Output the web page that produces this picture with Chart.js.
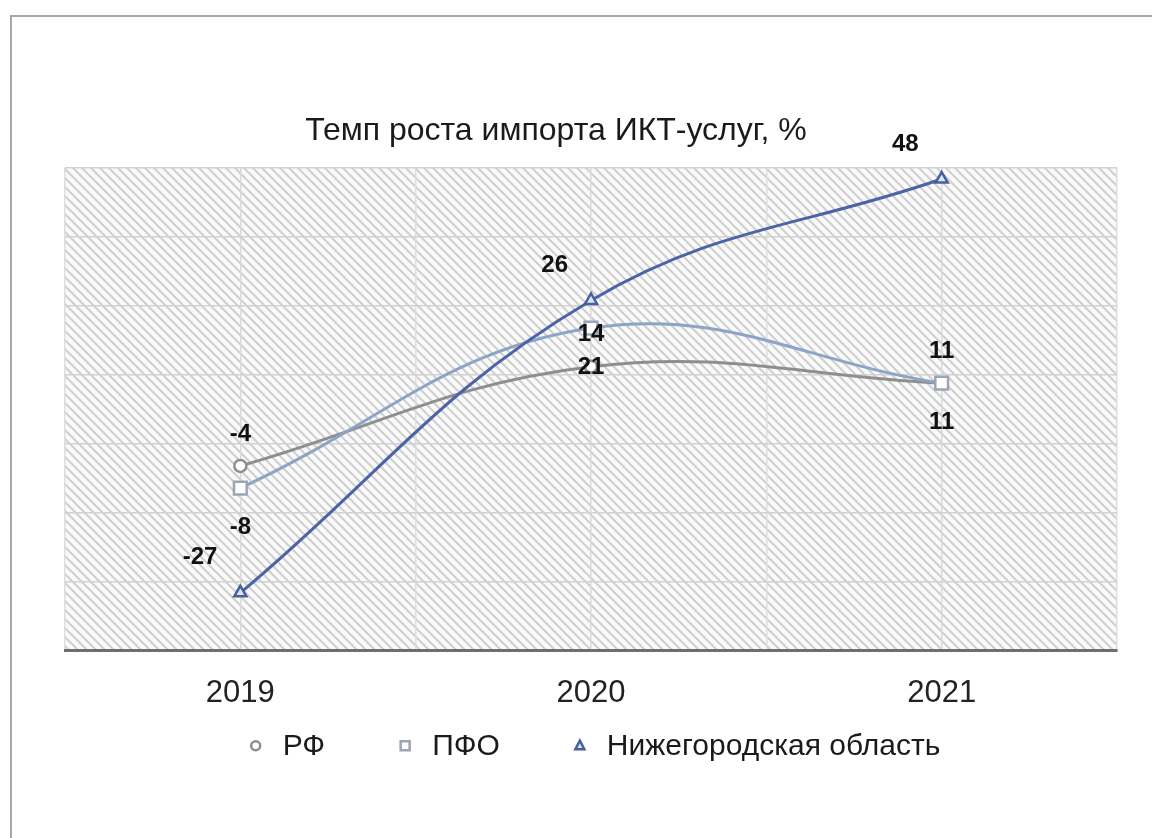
<!DOCTYPE html>
<html lang="ru">
<head>
<meta charset="utf-8">
<title>Темп роста импорта ИКТ-услуг</title>
<script src="https://cdn.jsdelivr.net/npm/chart.js@4.4.1/dist/chart.umd.min.js"></script>
<style>
  html, body { margin: 0; padding: 0; background: #fff; overflow: hidden; }
  .frame {
    position: absolute; left: 10px; top: 15px;
    width: 1160px; height: 840px;
    border-top: 2px solid #a8a8a8;
    border-left: 2px solid #a8a8a8;
  }
  #chart { display: block; }
</style>
</head>
<body>
<div class="frame"><canvas id="chart" width="1140" height="821"></canvas></div>
<script>
// DATA
var years = ['2019', '2020', '2021']
var rfValues = [-4, 14, 11]
var pfoValues = [-8, 21, 11]
var nnValues = [-27, 26, 48]
var seriesNames = ['РФ', 'ПФО', 'Нижегородская область']
var chartTitle = 'Темп роста импорта ИКТ-услуг, %'
var yMin = -37.5, yMax = 50, yStep = 12.5

var FONT = '"Liberation Sans", Arial, sans-serif'
Chart.defaults.font.family = FONT
Chart.defaults.color = '#222'

// diagonal hatch tile for the plot background
function makeHatch() {
  var s = 9
  var c = document.createElement('canvas')
  c.width = s
  c.height = s
  var g = c.getContext('2d')
  g.fillStyle = '#fafafa'
  g.fillRect(0, 0, s, s)
  g.strokeStyle = '#cfcfcf'
  g.lineWidth = 2
  g.beginPath()
  g.moveTo(-2, -2); g.lineTo(s + 2, s + 2)
  g.moveTo(-2, s - 2); g.lineTo(2, s + 2)
  g.moveTo(s - 2, -2); g.lineTo(s + 2, 2)
  g.stroke()
  return c
}

function drawMarker(ctx, style, x, y, r) {
  ctx.beginPath()
  if (style === 'circle') {
    ctx.arc(x, y, r, 0, Math.PI * 2)
  } else if (style === 'rect') {
    ctx.rect(x - r, y - r, 2 * r, 2 * r)
  } else {
    ctx.moveTo(x, y - r * 1.15)
    ctx.lineTo(x + r, y + r * 0.75)
    ctx.lineTo(x - r, y + r * 0.75)
    ctx.closePath()
  }
  ctx.fill()
  ctx.stroke()
}

var hatchBg = {
  id: 'hatchBg',
  beforeDraw(chart) {
    var a = chart.chartArea
    var ctx = chart.ctx
    ctx.save()
    ctx.fillStyle = ctx.createPattern(makeHatch(), 'repeat')
    ctx.fillRect(a.left, a.top, a.right - a.left, a.bottom - a.top)
    ctx.restore()
  }
}

// numbers next to the points
var valueLabels = {
  id: 'valueLabels',
  afterDatasetsDraw(chart) {
    var ctx = chart.ctx
    ctx.save()
    ctx.font = 'bold 24px ' + FONT
    ctx.fillStyle = '#111'
    ctx.textBaseline = 'middle'
    chart.data.datasets.forEach(function(ds, i) {
      chart.getDatasetMeta(i).data.forEach(function(pt, j) {
        var txt = String(ds.data[j])
        if (ds.labelAt === 'below') {
          ctx.textAlign = 'center'
          ctx.fillText(txt, pt.x, pt.y + 39)
        } else if (ds.labelAt === 'left') {
          ctx.textAlign = 'right'
          ctx.fillText(txt, pt.x - 23, pt.y - 35)
        } else {
          ctx.textAlign = 'center'
          ctx.fillText(txt, pt.x, pt.y - 32)
        }
      })
    })
    ctx.restore()
  }
}

// title on top, legend row under the axis
var titleAndLegend = {
  id: 'titleAndLegend',
  afterDraw(chart) {
    var ctx = chart.ctx
    var a = chart.chartArea
    ctx.save()
    ctx.textBaseline = 'middle'

    ctx.font = '32px ' + FONT
    ctx.fillStyle = '#1a1a1a'
    ctx.textAlign = 'center'
    ctx.fillText(chartTitle, (a.left + a.right) / 2 - 35, a.top - 37)

    ctx.font = '30px ' + FONT
    ctx.textAlign = 'left'
    var markerGap = 27, itemGap = 80
    var items = chart.data.datasets.map(function(ds) {
      return { ds: ds, w: ctx.measureText(ds.label).width }
    })
    var total = items.reduce(function(s, it) { return s + markerGap + it.w }, 0) +
      itemGap * (items.length - 1)
    var x = (a.left + a.right) / 2 + 7 - total / 2
    var y = a.bottom + 95
    items.forEach(function(it) {
      ctx.lineWidth = 2.5
      ctx.strokeStyle = it.ds.pointBorderColor
      ctx.fillStyle = it.ds.pointBackgroundColor
      drawMarker(ctx, it.ds.pointStyle, x, y, 4.5)
      ctx.fillStyle = '#1a1a1a'
      ctx.fillText(it.ds.label, x + markerGap, y + 1)
      x += markerGap + it.w + itemGap
    })
    ctx.restore()
  }
}

new Chart(document.getElementById('chart'), {
  type: 'line',
  data: {
    labels: years,
    datasets: [
      {
        label: seriesNames[0],
        data: rfValues,
        borderColor: '#8e8e8e',
        pointStyle: 'circle',
        pointRadius: 6,
        pointBorderWidth: 2.5,
        pointBorderColor: '#8e8e8e',
        pointBackgroundColor: '#ffffff',
        labelAt: 'above',
        order: 2
      }, {
        label: seriesNames[1],
        data: pfoValues,
        borderColor: '#8ca4c6',
        pointStyle: 'rect',
        pointRadius: 9,
        pointBorderWidth: 2.5,
        pointBorderColor: '#9aa6b4',
        pointBackgroundColor: '#ffffff',
        labelAt: 'below',
        order: 1
      }, {
        label: seriesNames[2],
        data: nnValues,
        borderColor: '#4c63a6',
        pointStyle: 'triangle',
        pointRadius: 7,
        pointBorderWidth: 2.5,
        pointBorderColor: '#46609e',
        pointBackgroundColor: '#d9e8f7',
        labelAt: 'left',
        order: 0
      }
    ]
  },
  options: {
    responsive: false,
    animation: false,
    layout: { padding: { left: 53, right: 35, top: 151, bottom: 102 } },
    elements: { line: { tension: 0.4, borderWidth: 3 } },
    plugins: {
      legend: { display: false },
      title: { display: false },
      tooltip: { enabled: false }
    },
    scales: {
      x: {
        offset: true,
        grid: { color: '#dadada', lineWidth: 1.5, drawTicks: false },
        border: { color: '#6e6e6e', width: 3 },
        ticks: { padding: 24, color: '#222', font: { size: 31 } }
      },
      xEdges: {
        type: 'category',
        labels: years,
        position: 'top',
        offset: true,
        grid: { offset: true, color: '#dedede', lineWidth: 1.5, drawTicks: false },
        border: { display: false },
        ticks: { display: false }
      },
      y: {
        min: yMin,
        max: yMax,
        ticks: { stepSize: yStep, display: false },
        grid: { color: '#d2d2d2', lineWidth: 1.5, drawTicks: false },
        border: { display: false }
      }
    }
  },
  plugins: [hatchBg, valueLabels, titleAndLegend]
})
</script>
</body>
</html>
